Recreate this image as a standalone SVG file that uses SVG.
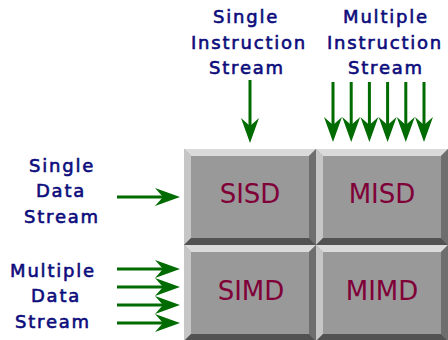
<svg xmlns="http://www.w3.org/2000/svg" width="448" height="340" viewBox="0 0 448 340">
<style>
.lbl{font-family:"DejaVu Sans",sans-serif;font-size:18px;letter-spacing:1.8px;fill:#0c0c7c;stroke:#0c0c7c;stroke-width:0.6px;text-anchor:middle}
.cell{font-family:"DejaVu Sans",sans-serif;font-size:26px;fill:#800038;text-anchor:middle}
.face{fill:#999999}
.bt{fill:#dadada}
.bl{fill:#c6c6c6}
.br{fill:#6e6e6e}
.bb{fill:#525252}
.ln{stroke:#006b00;stroke-width:3;fill:none}
</style>
<defs>
<path id="hr" d="M0,0 L-25,-9 L-17,0 L-25,9 Z" fill="#006b00"/>
<path id="hd" d="M0,0 L-9,-25 L0,-17 L9,-25 Z" fill="#006b00"/>
<g id="box">
<rect class="face" x="0" y="0" width="132" height="96"/>
<polygon class="bt" points="0,0 132,0 125,7 7,7"/>
<polygon class="bl" points="0,0 7,7 7,89 0,96"/>
<polygon class="br" points="132,0 132,96 125,89 125,7"/>
<polygon class="bb" points="0,96 7,89 125,89 132,96"/>
</g>
</defs>
<rect width="448" height="340" fill="#ffffff"/>
<g id="sisd"><use href="#box" x="184" y="149"/><text class="cell" x="250" y="203">SISD</text></g>
<g id="misd"><use href="#box" x="316" y="149"/><text class="cell" x="382" y="203">MISD</text></g>
<g id="simd"><use href="#box" x="184" y="245"/><text class="cell" x="251" y="300">SIMD</text></g>
<g id="mimd"><use href="#box" x="316" y="245"/><text class="cell" x="382" y="300">MIMD</text></g>
<g id="single-instruction"><text class="lbl" x="246" y="23">Single</text><text class="lbl" x="249" y="49">Instruction</text><text class="lbl" x="247" y="74">Stream</text></g>
<g id="multiple-instruction"><text class="lbl" x="386" y="23">Multiple</text><text class="lbl" x="385" y="49">Instruction</text><text class="lbl" x="386" y="74">Stream</text></g>
<g id="single-data"><text class="lbl" x="62" y="172">Single</text><text class="lbl" x="61" y="197">Data</text><text class="lbl" x="62" y="223">Stream</text></g>
<g id="multiple-data"><text class="lbl" x="53" y="277">Multiple</text><text class="lbl" x="56" y="302">Data</text><text class="lbl" x="53" y="328">Stream</text></g>
<g id="connectors">
<line class="ln" x1="250" y1="80" x2="250" y2="128"/><use href="#hd" x="250" y="143"/>
<line class="ln" x1="333" y1="82" x2="333" y2="128"/><use href="#hd" x="333" y="142"/>
<line class="ln" x1="351.2" y1="82" x2="351.2" y2="128"/><use href="#hd" x="351.2" y="142"/>
<line class="ln" x1="369.4" y1="82" x2="369.4" y2="128"/><use href="#hd" x="369.4" y="142"/>
<line class="ln" x1="387.6" y1="82" x2="387.6" y2="128"/><use href="#hd" x="387.6" y="142"/>
<line class="ln" x1="405.8" y1="82" x2="405.8" y2="128"/><use href="#hd" x="405.8" y="142"/>
<line class="ln" x1="424" y1="82" x2="424" y2="128"/><use href="#hd" x="424" y="142"/>
<line class="ln" x1="117" y1="197" x2="165" y2="197"/><use href="#hr" x="180" y="197"/>
<line class="ln" x1="117" y1="269" x2="165" y2="269"/><use href="#hr" x="180" y="269"/>
<line class="ln" x1="117" y1="287" x2="165" y2="287"/><use href="#hr" x="180" y="287"/>
<line class="ln" x1="117" y1="305" x2="165" y2="305"/><use href="#hr" x="180" y="305"/>
<line class="ln" x1="117" y1="323" x2="165" y2="323"/><use href="#hr" x="180" y="323"/>
</g>
</svg>
